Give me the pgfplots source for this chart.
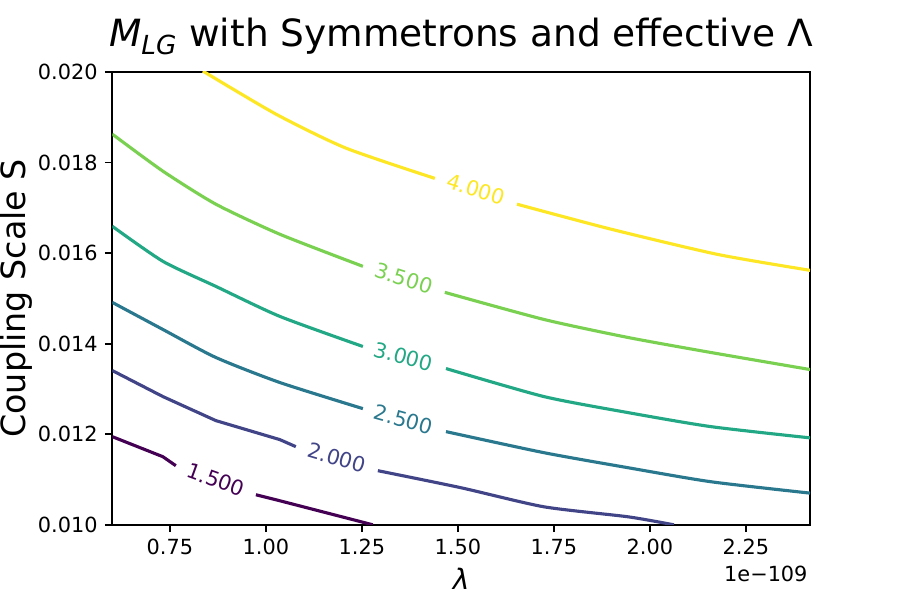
\documentclass[border=0pt]{standalone}
\usepackage{fontspec}
\setmainfont{DejaVu Sans}
\usepackage{pgfplots}
\pgfplotsset{compat=1.18}
\definecolor{v0}{HTML}{440154}
\definecolor{v1}{HTML}{414487}
\definecolor{v2}{HTML}{2A788E}
\definecolor{v3}{HTML}{22A884}
\definecolor{v4}{HTML}{7AD151}
\definecolor{v5}{HTML}{FDE725}
\begin{document}
\begin{tikzpicture}
\begin{axis}[
  name=ax,
  scale only axis,
  clip mode=individual,
  width=335.04pt, height=217.44pt,
  xmin=0.6, xmax=2.417,
  ymin=0.010, ymax=0.020,
  xtick={0.75,1.00,1.25,1.50,1.75,2.00,2.25},
  ytick={0.010,0.012,0.014,0.016,0.018,0.020},
  scaled y ticks=false, scaled x ticks=false,
  xticklabel style={/pgf/number format/.cd, fixed, fixed zerofill, precision=2, assume math mode=true},
  yticklabel style={/pgf/number format/.cd, fixed, fixed zerofill, precision=3, assume math mode=true},
  tick label style={font=\fontsize{10}{12}\selectfont},
  tick align=outside, xtick pos=bottom, ytick pos=left,
  major tick length=3.5pt,
  tick style={black, line width=0.8pt},
  axis line style={black, line width=0.8pt},
  title={\textit{M}\textsubscript{\textit{LG}} with Symmetrons and effective Λ},
  title style={font=\fontsize{18}{22}\selectfont, inner sep=0pt, at={(axis description cs:0.5,1)}, anchor=base, yshift=6pt},
  xlabel={\textit{λ}},
  xlabel style={font=\fontsize{13.5}{16}\selectfont, inner sep=0pt, at={(axis description cs:0.5,-0.1435)}, anchor=base},
  ylabel={Coupling Scale S},
  ylabel style={font=\fontsize{16}{19}\selectfont, inner sep=0pt, at={(axis description cs:-0.1246,0.5)}, anchor=base},
  every axis plot/.append style={line width=1.5pt, no markers, smooth, tension=0.4},
]
% 4.000
\addplot[v5] coordinates {(0.836,0.02002) (1.026,0.01907) (1.208,0.01832) (1.440,0.01765)};
\addplot[v5] coordinates {(1.654,0.01708) (1.898,0.01653) (2.177,0.01597) (2.417,0.01562)};
% 3.500
\addplot[v4] coordinates {(0.6,0.018628) (0.7318,0.017810) (0.8698,0.017080) (1.0365,0.016416) (1.2526,0.015708)};
\addplot[v4] coordinates {(1.466,0.015133) (1.724,0.014535) (1.943,0.014137) (2.159,0.013805) (2.417,0.013429)};
% 3.000
\addplot[v3] coordinates {(0.6,0.016593) (0.7318,0.015819) (0.8698,0.015265) (1.0365,0.014602) (1.2526,0.013938)};
\addplot[v3] coordinates {(1.469,0.013451) (1.724,0.012832) (1.943,0.012478) (2.159,0.012168) (2.417,0.011920)};
% 2.500
\addplot[v2] coordinates {(0.6,0.014912) (0.7318,0.014314) (0.8698,0.013695) (1.0365,0.013142) (1.2526,0.012566)};
\addplot[v2] coordinates {(1.469,0.012058) (1.724,0.011593) (1.943,0.011261) (2.159,0.010951) (2.417,0.010700)};
% 2.000
\addplot[v1, sharp plot] coordinates {(0.6,0.013407) (0.7318,0.012832) (0.8698,0.012301) (1.0365,0.011881) (1.078,0.011726)};
\addplot[v1] coordinates {(1.2917,0.011195) (1.508,0.010819) (1.724,0.010398) (1.943,0.010177) (2.0625,0.010)};
% 1.500
\addplot[v0, sharp plot] coordinates {(0.6,0.011947) (0.7318,0.011504) (0.7656,0.011305)};
\addplot[v0, sharp plot] coordinates {(0.974,0.010664) (1.0365,0.010531) (1.2786,0.010)};
% labels
\begin{scope}[every node/.style={font=\fontsize{10}{12}\selectfont, inner sep=0pt}]
\node[v5, rotate=-17.6] at (axis cs:1.547,0.017412) {4.000};
\node[v4, rotate=-17.6] at (axis cs:1.359,0.015442) {3.500};
\node[v3, rotate=-14.8] at (axis cs:1.359,0.013717) {3.000};
\node[v2, rotate=-15.5] at (axis cs:1.359,0.012323) {2.500};
\node[v1, rotate=-16.3] at (axis cs:1.185,0.011482) {2.000};
\node[v0, rotate=-19.9] at (axis cs:0.870,0.010996) {1.500};
\end{scope}
\node[font=\fontsize{10}{12}\selectfont, anchor=base east, inner sep=0pt] at (axis description cs:0.997,-0.126) {1e−109};
\end{axis}
\path ([shift={(-53.76pt,-36pt)}]ax.south west) rectangle ([shift={(43.2pt,34.56pt)}]ax.north east);
\end{tikzpicture}
\end{document}
